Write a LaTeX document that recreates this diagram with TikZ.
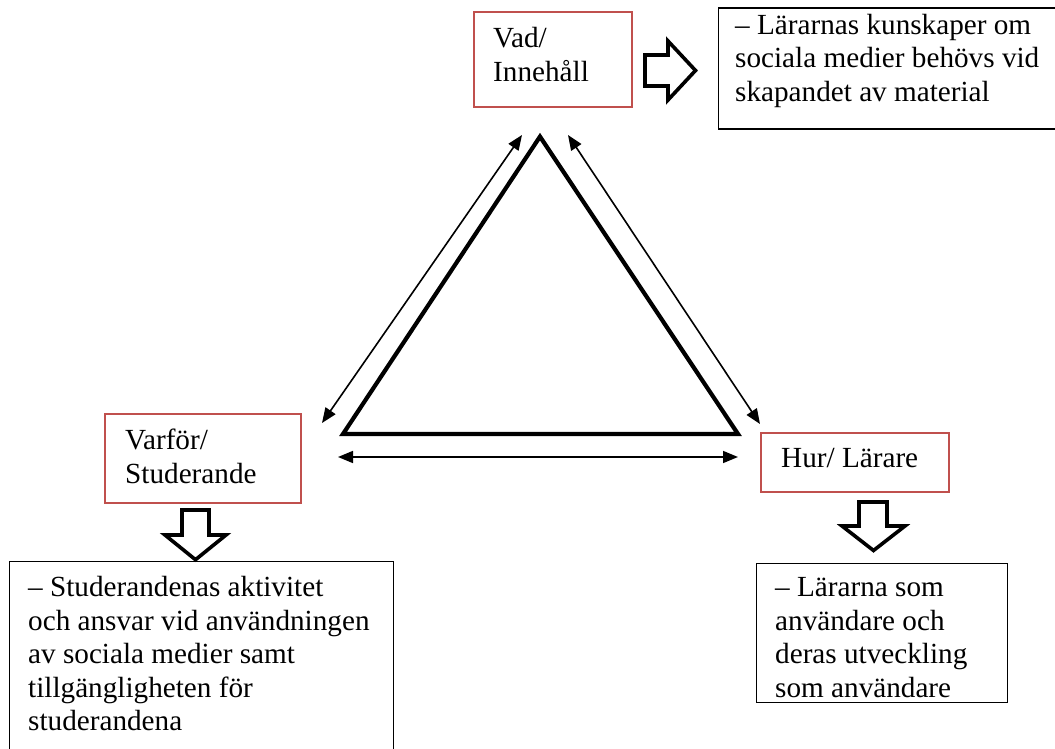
\documentclass[tikz,border=0pt]{standalone}
\usepackage{fontspec}
\setmainfont{Liberation Serif}
\usetikzlibrary{arrows.meta}
\definecolor{accred}{RGB}{192,80,77}
\newcommand\mlines[1]{\vtop{\halign{##\hfil\cr#1\crcr}}}
\begin{document}
\begin{tikzpicture}[x=1pt,y=-1pt,
  redbox/.style={draw=accred,line width=2pt,anchor=north west,inner sep=0pt},
  blackbox/.style={draw=black,line width=1.3pt,anchor=north west,inner sep=0pt},
  txt/.style={anchor=base west,inner sep=0pt,font=\fontsize{29.2}{33.5}\selectfont},
  thinarrow/.style={line width=1.6pt,{Triangle[length=15pt,width=12pt]}-{Triangle[length=15pt,width=12pt]}},
  blockarrow/.style={draw=black,fill=white,line width=3.6pt,line join=miter},
  tri/.style={draw=black,line width=4.2pt,line join=miter}
]
\useasboundingbox (0,0) rectangle (1055,749);

% boxes
\node[redbox,minimum width=158pt,minimum height=95pt] (vad) at (473,11) {};
\node[blackbox,minimum width=345pt,minimum height=121pt] (vadtxt) at (717.5,7.5) {};
\node[redbox,minimum width=196pt,minimum height=89pt] (varfor) at (104,413) {};
\node[redbox,minimum width=188pt,minimum height=59pt] (hur) at (760,432) {};
\node[blackbox,minimum width=384pt,minimum height=200pt] (varfortxt) at (8.5,560.5) {};
\node[blackbox,minimum width=251pt,minimum height=139pt] (hurtxt) at (755.5,562.5) {};

% texts
\node[txt] (t1) at (493,48) {\mlines{Vad/\cr Innehåll}};
\node[txt] (t2) at (735,34.5) {\mlines{– Lärarnas kunskaper om\cr sociala medier behövs vid\cr skapandet av material}};
\node[txt] (t3) at (125,449.5) {\mlines{Varför/\cr Studerande}};
\node[txt] (t4) at (781,467.5) {Hur/ Lärare};
\node[txt] (t5) at (28,596.5) {\mlines{– Studerandenas aktivitet\cr och ansvar vid användningen\cr av sociala medier samt\cr tillgängligheten för\cr studerandena}};
\node[txt] (t6) at (775,596.5) {\mlines{– Lärarna som\cr användare och\cr deras utveckling\cr som användare}};

% triangle
\coordinate (apex) at (540,136.6);
\coordinate (bl) at (343,434);
\coordinate (br) at (738,434);
\draw[tri] (apex) -- (bl) -- (br) -- cycle;

% thin double arrows
\coordinate (l1) at (522,135);
\coordinate (l2) at (322,423);
\coordinate (r1) at (568,135);
\coordinate (r2) at (760,424);
\coordinate (h1) at (338,457);
\coordinate (h2) at (738,457);
\draw[thinarrow] (l1) -- (l2);
\draw[thinarrow] (r1) -- (r2);
\draw[thinarrow] (h1) -- (h2);

% block arrows
\draw[blockarrow] (645,55) -- (668,55) -- (668,41) -- (695.5,70.5) -- (668,100) -- (668,86) -- (645,86) -- cycle;
\draw[blockarrow] (182,510) -- (209,510) -- (209,535) -- (226,535) -- (195.5,559.7) -- (165,535) -- (182,535) -- cycle;
\draw[blockarrow] (859,502) -- (887,502) -- (887,526) -- (905,526) -- (873.5,550.5) -- (842,526) -- (859,526) -- cycle;
\end{tikzpicture}
\end{document}
